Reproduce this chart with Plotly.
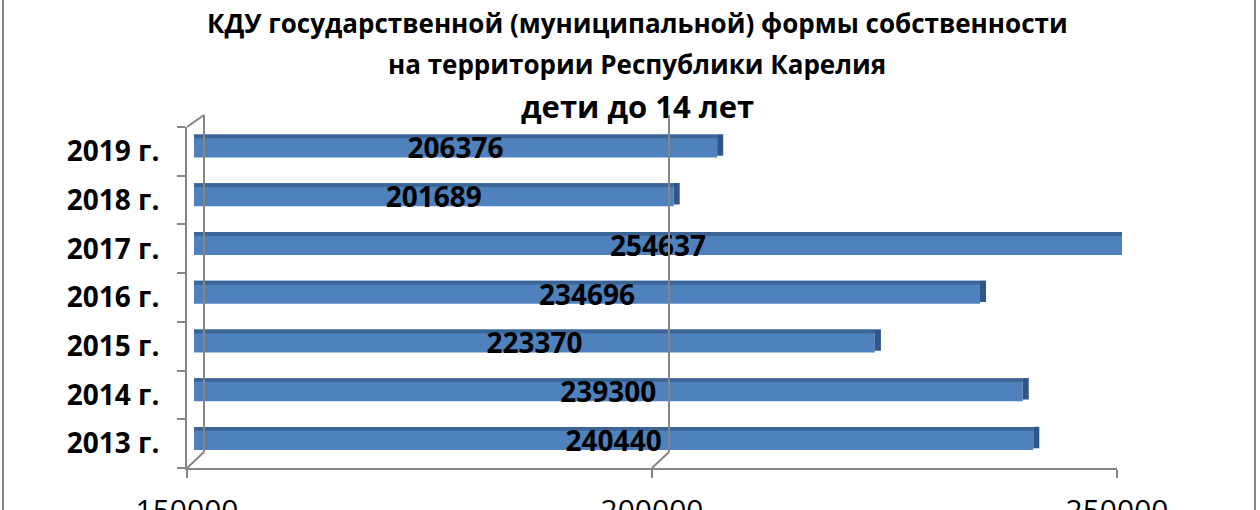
import plotly.graph_objects as go

W, H = 1260, 510

# ---- data ----
years = ["2013 г.", "2014 г.", "2015 г.", "2016 г.", "2017 г.", "2018 г.", "2019 г."]
values = [240440, 239300, 223370, 234696, 254637, 201689, 206376]
x_range = [150000, 250000]
x_ticks = [150000, 200000, 250000]
x_tick_text = ["150000", "200000", "250000"]
title_lines = [
    "КДУ государственной (муниципальной) формы собственности",
    "на территории Республики Карелия",
    "дети до 14 лет",
]

# ---- style ----
FONT = "Open Sans, Noto Sans, sans-serif"
BAR = "#4F81BD"
BAR_TOP = "#3A6595"
BAR_END = "#2F5687"
GRID = "#868686"
BACK_DX = 17      # px offset of back wall from front plane
END_DEPTH = 650   # depth of the bar end face, in axis units


def fx(p):
    return p / W


def fy(p):
    return 1 - p / H


fig = go.Figure()

# main bars (front face)
fig.add_trace(go.Bar(
    x=values, y=years, orientation="h",
    marker=dict(color=BAR, line=dict(width=0)),
    width=0.47, hoverinfo="skip", xaxis="x", yaxis="y",
))
# darker top edge of each bar (3D look)
fig.add_trace(go.Bar(
    x=values, y=years, orientation="h",
    marker=dict(color=BAR_TOP, line=dict(width=0)),
    width=0.075, offset=0.16,
    hoverinfo="skip", xaxis="x", yaxis="y",
))
# end face of each bar
fig.add_trace(go.Bar(
    x=[END_DEPTH] * len(values), base=values, y=years, orientation="h",
    marker=dict(color=BAR_END, line=dict(width=0)),
    width=0.44, offset=-0.2,
    hoverinfo="skip", xaxis="x", yaxis="y",
))
# front-plane axes (carry ticks and labels)
fig.add_trace(go.Scatter(
    x=values, y=years, mode="none", hoverinfo="skip",
    xaxis="x2", yaxis="y2", showlegend=False,
))
# value labels, centred on the visible part of each bar (front plane rows)
fig.add_trace(go.Scatter(
    x=[(x_range[0] + min(v, x_range[1])) / 2 for v in values], y=years,
    mode="text", text=[str(v) for v in values], textposition="middle center",
    textfont=dict(family=FONT, size=28, color="black", weight="bold"),
    cliponaxis=False, hoverinfo="skip", xaxis="x", yaxis="y2",
))

shapes = []
for v in x_ticks:
    # back wall vertical gridline
    shapes.append(dict(type="line", xref="x2", xsizemode="pixel", xanchor=v,
                       x0=BACK_DX, x1=BACK_DX, yref="paper",
                       y0=fy(452), y1=fy(115),
                       line=dict(color=GRID, width=2)))
    # floor diagonal
    shapes.append(dict(type="line", xref="x2", xsizemode="pixel", xanchor=v,
                       x0=0, x1=BACK_DX, yref="paper",
                       y0=fy(468), y1=fy(452),
                       line=dict(color=GRID, width=2)))
# top-left diagonal of side wall
shapes.append(dict(type="line", xref="x2", xsizemode="pixel", xanchor=x_ticks[0],
                   x0=0, x1=BACK_DX, yref="paper", y0=fy(127), y1=fy(115),
                   line=dict(color=GRID, width=2)))
# outer chart border
for xp in (3, 1255):
    shapes.append(dict(type="line", xref="paper", yref="paper",
                       x0=fx(xp), x1=fx(xp), y0=0, y1=1,
                       line=dict(color=GRID, width=2)))

annotations = []
for txt, yc, size in zip(title_lines, (23, 64, 106), (26, 26, 31)):
    annotations.append(dict(text=txt, xref="paper", yref="paper",
                            x=fx(637), y=fy(yc), xanchor="center", yanchor="middle",
                            showarrow=False,
                            font=dict(family=FONT, size=size, color="black", weight="bold")))

hidden = dict(showline=False, showgrid=False, zeroline=False, ticks="",
              showticklabels=False, automargin=False, fixedrange=True)

fig.update_layout(
    width=W, height=H,
    margin=dict(l=0, r=0, t=0, b=0, pad=0, autoexpand=False),
    paper_bgcolor="white", plot_bgcolor="rgba(0,0,0,0)",
    barmode="overlay", showlegend=False,
    xaxis=dict(domain=[fx(194), fx(1122)], range=x_range, anchor="y", **hidden),
    yaxis=dict(domain=[fy(462.9), fy(121.6)], range=[-0.5, 6.5], type="category",
               anchor="x", **hidden),
    xaxis2=dict(domain=[fx(187), fx(1117)], range=x_range, anchor="y2",
                showline=True, linecolor=GRID, linewidth=2,
                ticks="outside", ticklen=8, tickwidth=2, tickcolor=GRID,
                tickvals=x_ticks, ticktext=x_tick_text,
                tickfont=dict(family=FONT, size=30, color="black"),
                ticklabelstandoff=7, automargin=False,
                showgrid=False, zeroline=False, fixedrange=True),
    yaxis2=dict(domain=[fy(468), fy(127)], range=[-0.5, 6.5], type="category",
                anchor="x2", showline=True, linecolor=GRID, linewidth=2,
                ticks="outside", tickson="boundaries", ticklen=8, tickwidth=2,
                tickcolor=GRID,
                tickfont=dict(family=FONT, size=28, color="black", weight="bold"),
                ticklabelstandoff=20, automargin=False,
                showgrid=False, zeroline=False, fixedrange=True),
    shapes=shapes,
    annotations=annotations,
)

fig.write_html(
    "out.html",
    config={"displayModeBar": False},
    post_script="document.body.style.margin='0';document.body.style.overflow='hidden';",
)
